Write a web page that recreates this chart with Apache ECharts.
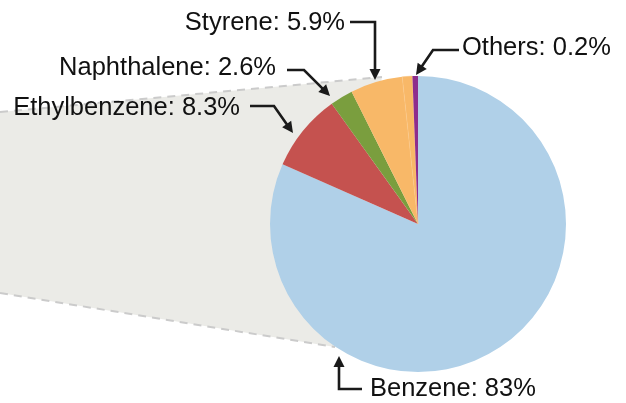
<!DOCTYPE html>
<html>
<head>
<meta charset="utf-8">
<script src="https://cdn.jsdelivr.net/npm/echarts@6/dist/echarts.min.js"></script>
<style>
  html, body { margin: 0; padding: 0; background: #fff; }
  #chart { width: 626px; height: 403px; }
</style>
</head>
<body>
<div id="chart"></div>
<script>
// slice shares as drawn (percent of the circle), clockwise from 12 o'clock
const names = ["Benzene", "Ethylbenzene", "Naphthalene", "Styrene", "Styrene (rest)", "Others"];
const shares = [81.6, 8.5, 2.5, 5.7, 1.1, 0.6];
// percentages printed in the labels
const labelPct = ["83%", "8.3%", "2.6%", "5.9%", null, "0.2%"];
const colors = ["#b0d0e8", "#c5524f", "#7a9e3e", "#f8b868", "#f8b868", "#8e2d8c"];

const CX = 418, CY = 224, R = 148;
const FONT = "'Liberation Sans', Arial, Helvetica, sans-serif";

// label anchor + leader (label end -> bend -> arrow tip)
const labelPlace = [
  { x: 370, y: 389, align: "left",  line: [[362, 389], [339, 389], [339, 356]] },
  { x: 240, y: 108, align: "right", line: [[250, 106], [274, 106], [293, 133]] },
  { x: 276, y: 68,  align: "right", line: [[287, 70], [304, 70], [330, 96]] },
  { x: 345, y: 23,  align: "right", line: [[350, 22], [375, 22], [375, 80]] },
  null,
  { x: 462, y: 48,  align: "left",  line: [[459, 50], [433, 50], [416, 75]] },
];

function arrow(pts) {
  const t = pts[pts.length - 1], p = pts[pts.length - 2];
  const dx = t[0] - p[0], dy = t[1] - p[1];
  const d = Math.hypot(dx, dy), ux = dx / d, uy = dy / d;
  const len = 11, w = 5.5;
  const bx = t[0] - ux * len, by = t[1] - uy * len;
  const nx = -uy, ny = ux;
  const linePts = pts.slice(0, -1).concat([[bx + ux * 2, by + uy * 2]]);
  return [
    { type: "polyline", z: 20, shape: { points: linePts },
      style: { stroke: "#1a1a1a", lineWidth: 2.6, fill: null, lineJoin: "miter" } },
    { type: "polygon", z: 20,
      shape: { points: [t, [bx + nx * w, by + ny * w], [bx - nx * w, by - ny * w]] },
      style: { fill: "#1a1a1a" } },
  ];
}

// grey zoom wedge behind the pie
const wedge = [[0, 112], [382, 77], [335, 347], [0, 293]];
const graphics = [
  { type: "polygon", z: 0, shape: { points: wedge }, style: { fill: "#ebebe7" } },
  { type: "line", z: 1, shape: { x1: 0, y1: 112, x2: 382, y2: 77 },
    style: { stroke: "#cbcbcb", lineWidth: 2, lineDash: [8, 6] } },
  { type: "line", z: 1, shape: { x1: 0, y1: 293, x2: 335, y2: 347 },
    style: { stroke: "#cbcbcb", lineWidth: 2, lineDash: [8, 6] } },
];
labelPlace.forEach((lp) => { if (lp) graphics.push(...arrow(lp.line)); });

const option = {
  animation: false,
  graphic: { elements: graphics },
  series: [
    {
      type: "pie",
      z: 5,
      center: [CX, CY],
      radius: R,
      startAngle: 90,
      clockwise: true,
      avoidLabelOverlap: false,
      emphasis: { disabled: true },
      label: {
        show: true,
        color: "#111",
        fontSize: 25.5,
        fontFamily: FONT,
        formatter: (p) => names[p.dataIndex] + ": " + labelPct[p.dataIndex],
      },
      labelLine: { show: false },
      labelLayout: (params) => {
        const lp = labelPlace[params.dataIndex];
        if (!lp) return {};
        return { x: lp.x, y: lp.y, align: lp.align, verticalAlign: "middle" };
      },
      data: shares.map((v, i) => ({
        name: names[i],
        value: v,
        itemStyle: i === 4
          ? { color: colors[i], borderColor: "#fac88a", borderWidth: 0.5 }
          : { color: colors[i] },
        label: labelPct[i] ? {} : { show: false },
      })),
    },
  ],
};

const chart = echarts.init(document.getElementById("chart"));
chart.setOption(option);
</script>
</body>
</html>
